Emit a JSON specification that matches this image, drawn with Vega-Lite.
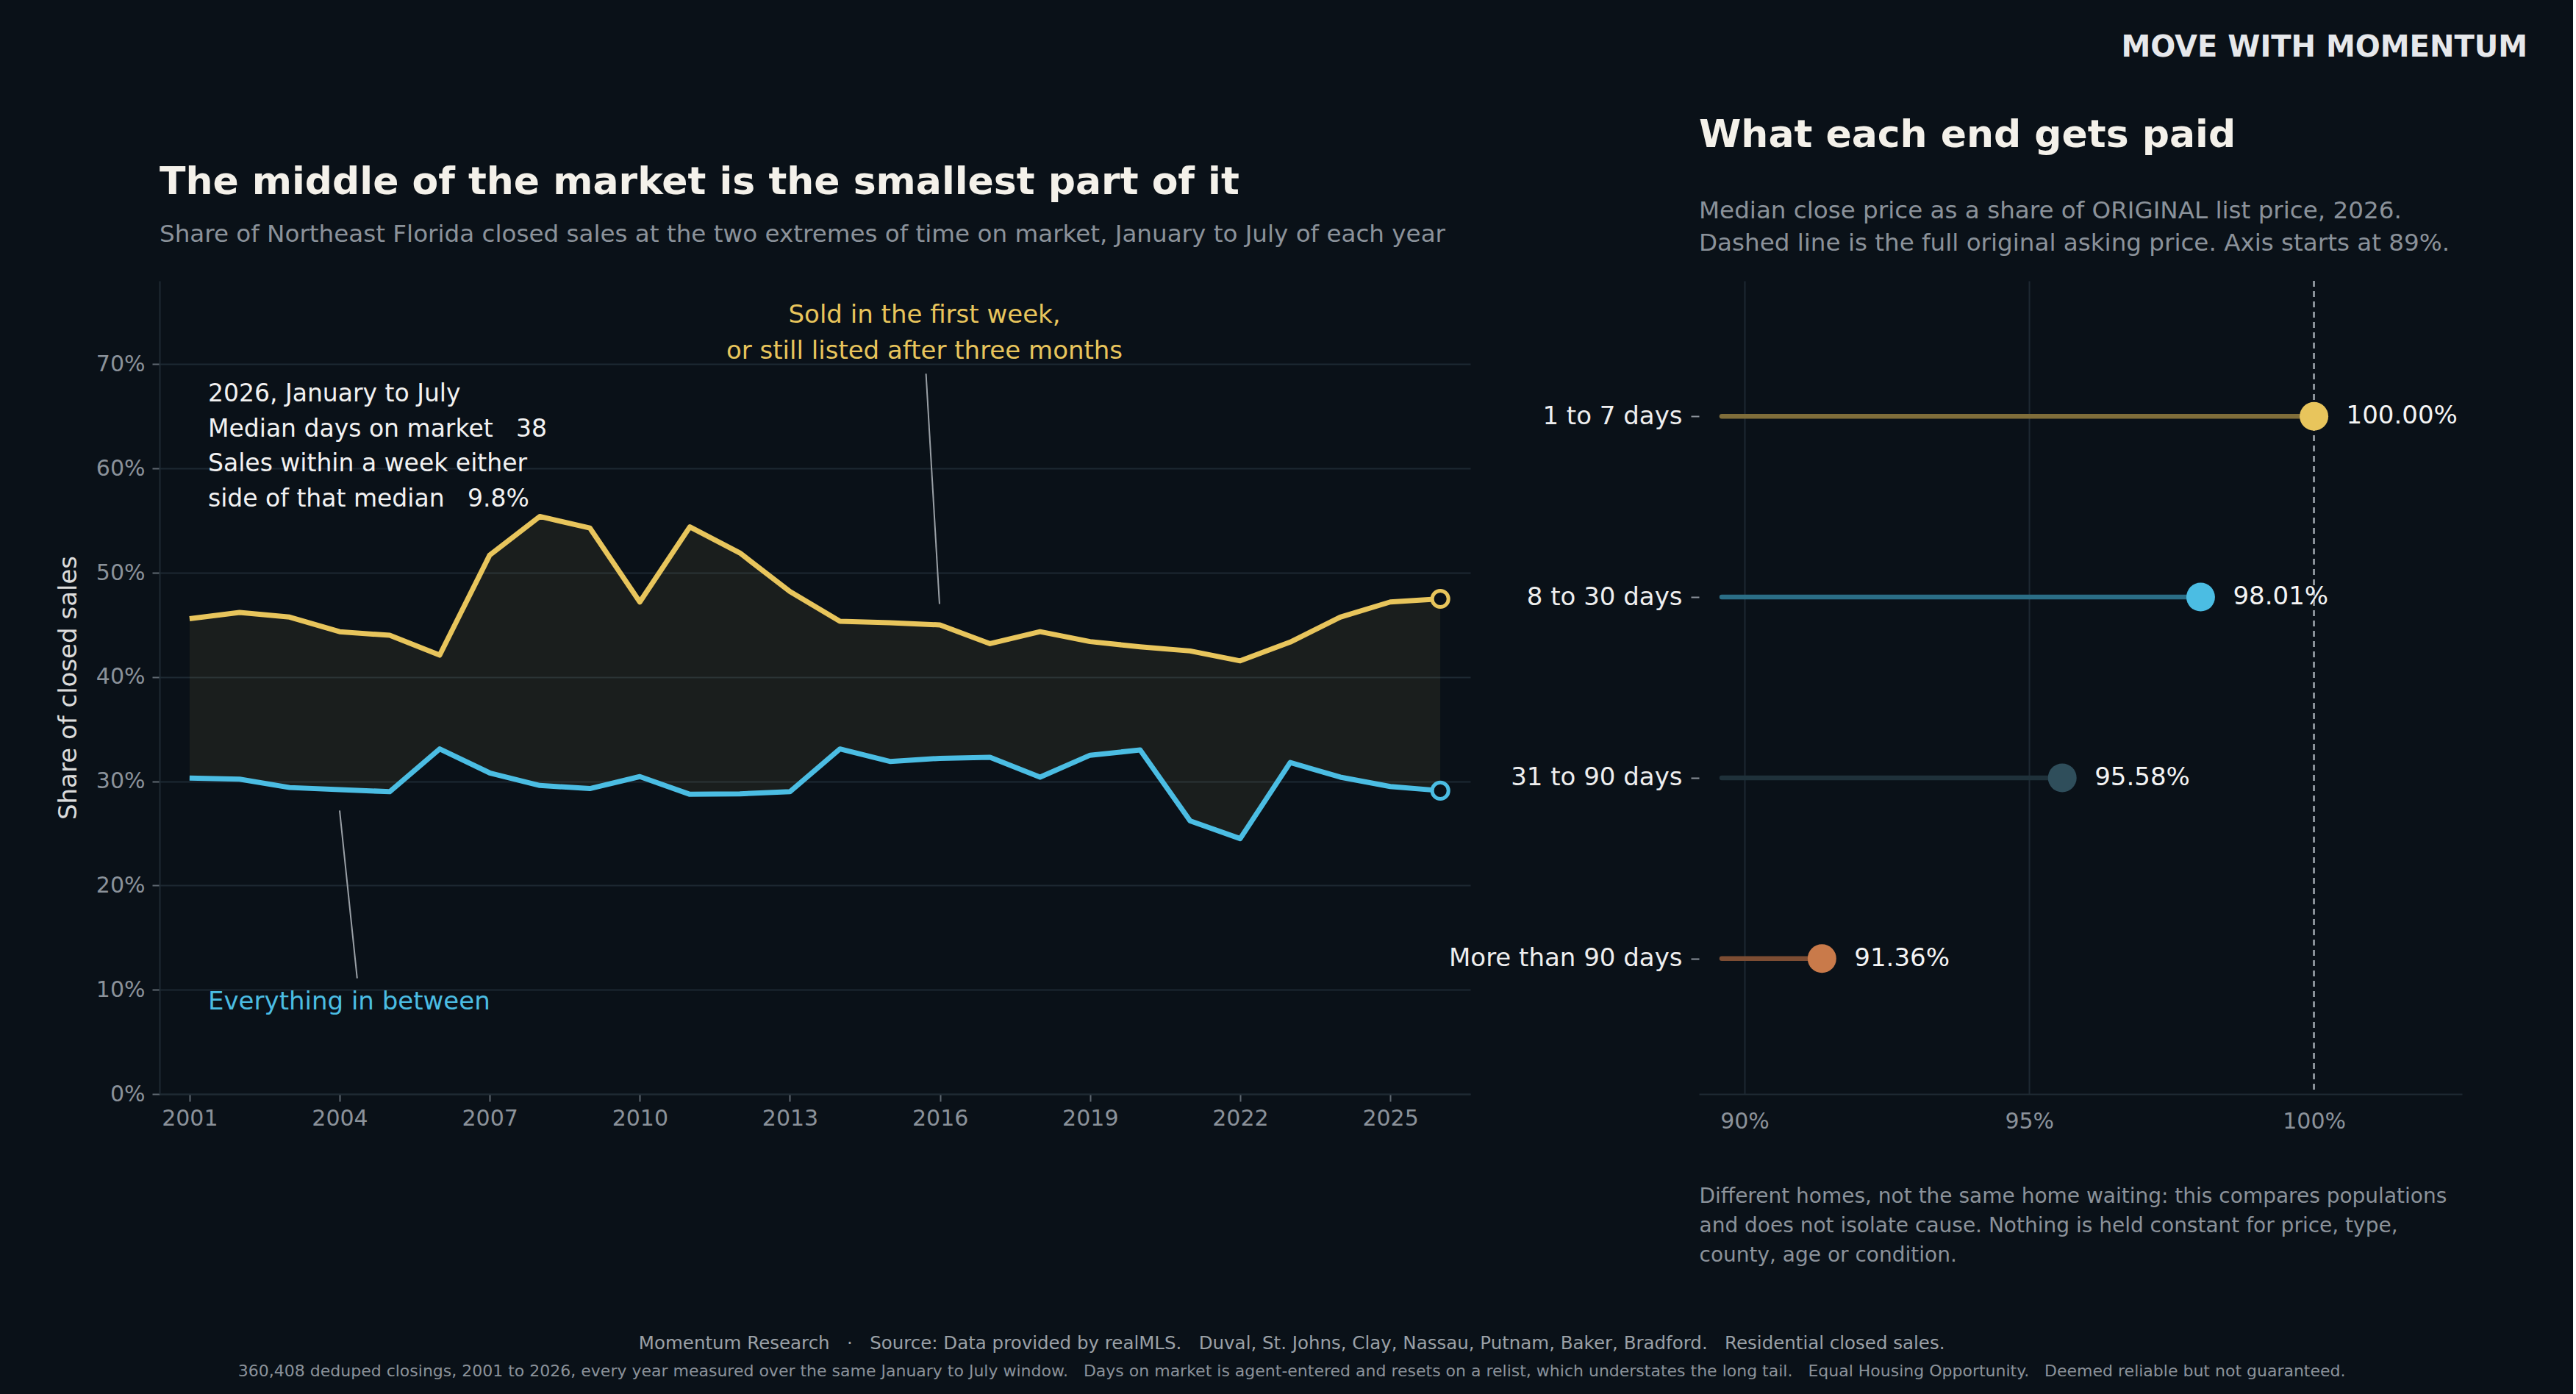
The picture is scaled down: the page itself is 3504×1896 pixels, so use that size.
{
  "$schema": "https://vega.github.io/schema/vega-lite/v6.json",
  "background": "#0a1118",
  "padding": {"left": 76, "top": 45, "right": 62, "bottom": 20},
  "config": {
    "font": "DejaVu Sans",
    "view": {"stroke": null},
    "axis": {"labelFont": "DejaVu Sans", "titleFont": "DejaVu Sans"},
    "title": {"font": "DejaVu Sans", "subtitleFont": "DejaVu Sans"}
  },
  "datasets": {
    "share": [
      {"year": 2001, "extremes": 45.6, "between": 30.3},
      {"year": 2002, "extremes": 46.2, "between": 30.2},
      {"year": 2003, "extremes": 45.75, "between": 29.4},
      {"year": 2004, "extremes": 44.35, "between": 29.2},
      {"year": 2005, "extremes": 44.0, "between": 29.0},
      {"year": 2006, "extremes": 42.1, "between": 33.1},
      {"year": 2007, "extremes": 51.7, "between": 30.8},
      {"year": 2008, "extremes": 55.4, "between": 29.6},
      {"year": 2009, "extremes": 54.3, "between": 29.3},
      {"year": 2010, "extremes": 47.2, "between": 30.45},
      {"year": 2011, "extremes": 54.4, "between": 28.75},
      {"year": 2012, "extremes": 51.9, "between": 28.8},
      {"year": 2013, "extremes": 48.2, "between": 29.0},
      {"year": 2014, "extremes": 45.35, "between": 33.1},
      {"year": 2015, "extremes": 45.2, "between": 31.9},
      {"year": 2016, "extremes": 45.0, "between": 32.2},
      {"year": 2017, "extremes": 43.2, "between": 32.3},
      {"year": 2018, "extremes": 44.35, "between": 30.4},
      {"year": 2019, "extremes": 43.4, "between": 32.5},
      {"year": 2020, "extremes": 42.9, "between": 33.0},
      {"year": 2021, "extremes": 42.5, "between": 26.2},
      {"year": 2022, "extremes": 41.55, "between": 24.5},
      {"year": 2023, "extremes": 43.35, "between": 31.8},
      {"year": 2024, "extremes": 45.75, "between": 30.4},
      {"year": 2025, "extremes": 47.2, "between": 29.5},
      {"year": 2026, "extremes": 47.5, "between": 29.1}
    ],
    "leaders": [
      {"year": 2015.99, "share": 47.0, "year2": 2015.72, "share2": 69.1},
      {"year": 2004.35, "share": 11.1, "year2": 2004.0, "share2": 27.2}
    ],
    "notes": [
      {"kind": "fast", "year": 2015.69, "share": 74.0, "label": "Sold in the first week,\nor still listed after three months"},
      {"kind": "stats", "year": 2001.37, "share": 66.4, "label": "2026, January to July\nMedian days on market \u00a0\u00a038\nSales within a week either\nside of that median \u00a0\u00a09.8%"},
      {"kind": "middle", "year": 2001.37, "share": 8.1, "label": "Everything in between"}
    ],
    "paid": [
      {"bucket": "1 to 7 days", "pct": 100.00},
      {"bucket": "8 to 30 days", "pct": 98.01},
      {"bucket": "31 to 90 days", "pct": 95.58},
      {"bucket": "More than 90 days", "pct": 91.36}
    ]
  },
  "title": {
    "text": "Momentum Research \u00a0\u00a0·\u00a0\u00a0 Source: Data provided by realMLS. \u00a0\u00a0Duval, St. Johns, Clay, Nassau, Putnam, Baker, Bradford. \u00a0\u00a0Residential closed sales.",
    "subtitle": "360,408 deduped closings, 2001 to 2026, every year measured over the same January to July window. \u00a0\u00a0Days on market is agent-entered and resets on a relist, which understates the long tail. \u00a0\u00a0Equal Housing Opportunity. \u00a0\u00a0Deemed reliable but not guaranteed.",
    "orient": "bottom",
    "anchor": "middle",
    "fontSize": 24.5,
    "fontWeight": "normal",
    "color": "#9aa0a6",
    "subtitleFontSize": 22,
    "subtitleColor": "#8b929a",
    "subtitlePadding": 14,
    "offset": 95
  },
  "vconcat": [
    {
      "title": {
        "text": "MOVE WITH MOMENTUM",
        "anchor": "end",
        "fontSize": 40,
        "fontWeight": "bold",
        "color": "#e6e8eb",
        "dx": 89,
        "offset": 73
      },
      "bounds": "flush",
      "spacing": 311,
      "hconcat": [
        {
          "width": 1783,
          "height": 1106,
          "title": {
            "text": "The middle of the market is the smallest part of it",
            "subtitle": "Share of Northeast Florida closed sales at the two extremes of time on market, January to July of each year",
            "anchor": "start",
            "frame": "group",
            "fontSize": 52,
            "fontWeight": "bold",
            "color": "#f4f1ea",
            "subtitleFontSize": 32.6,
            "subtitleColor": "#8b929a",
            "subtitlePadding": 28,
            "offset": 45
          },
          "layer": [
            {
              "data": {"name": "share"},
              "mark": {"type": "area", "color": "#e8c55c", "opacity": 0.075},
              "encoding": {
                "x": {
                  "field": "year",
                  "type": "quantitative",
                  "scale": {"domain": [2000.4, 2026.6], "nice": false, "zero": false},
                  "axis": {
                    "title": null,
                    "values": [2001, 2004, 2007, 2010, 2013, 2016, 2019, 2022, 2025],
                    "format": "d",
                    "grid": false,
                    "labelFontSize": 30,
                    "labelColor": "#8b929a",
                    "labelPadding": 8,
                    "tickColor": "#5f6871",
                    "tickSize": 10,
                    "tickWidth": 2,
                    "domainColor": "#1f2a33",
                    "domainWidth": 2
                  }
                },
                "y": {
                  "field": "extremes",
                  "type": "quantitative",
                  "scale": {"domain": [0, 78], "nice": false},
                  "axis": {
                    "title": "Share of closed sales",
                    "titleColor": "#dcdcdc",
                    "titleFontSize": 34,
                    "titleFontWeight": "normal",
                    "titlePadding": 20,
                    "values": [0, 10, 20, 30, 40, 50, 60, 70],
                    "labelExpr": "datum.value + '%'",
                    "labelFontSize": 30,
                    "labelColor": "#8b929a",
                    "labelPadding": 10,
                    "tickColor": "#5f6871",
                    "tickSize": 10,
                    "tickWidth": 2,
                    "grid": true,
                    "gridColor": "#1d2932",
                    "gridWidth": 2,
                    "domainColor": "#1f2a33",
                    "domainWidth": 2
                  }
                },
                "y2": {"field": "between"}
              }
            },
            {
              "data": {"name": "share"},
              "mark": {"type": "line", "color": "#e8c55c", "strokeWidth": 7, "strokeJoin": "round"},
              "encoding": {
                "x": {"field": "year", "type": "quantitative"},
                "y": {"field": "extremes", "type": "quantitative"}
              }
            },
            {
              "data": {"name": "share"},
              "mark": {"type": "line", "color": "#4bbde3", "strokeWidth": 7, "strokeJoin": "round"},
              "encoding": {
                "x": {"field": "year", "type": "quantitative"},
                "y": {"field": "between", "type": "quantitative"}
              }
            },
            {
              "data": {"name": "share"},
              "transform": [{"filter": "datum.year == 2026"}],
              "mark": {"type": "point", "shape": "circle", "filled": true, "fill": "#0a1118", "stroke": "#e8c55c", "strokeWidth": 5, "size": 490, "opacity": 1},
              "encoding": {
                "x": {"field": "year", "type": "quantitative"},
                "y": {"field": "extremes", "type": "quantitative"}
              }
            },
            {
              "data": {"name": "share"},
              "transform": [{"filter": "datum.year == 2026"}],
              "mark": {"type": "point", "shape": "circle", "filled": true, "fill": "#0a1118", "stroke": "#4bbde3", "strokeWidth": 5, "size": 490, "opacity": 1},
              "encoding": {
                "x": {"field": "year", "type": "quantitative"},
                "y": {"field": "between", "type": "quantitative"}
              }
            },
            {
              "data": {"name": "leaders"},
              "mark": {"type": "rule", "color": "#9aa0a6", "strokeWidth": 2},
              "encoding": {
                "x": {"field": "year", "type": "quantitative"},
                "y": {"field": "share", "type": "quantitative"},
                "x2": {"field": "year2"},
                "y2": {"field": "share2"}
              }
            },
            {
              "data": {"name": "notes"},
              "transform": [{"filter": "datum.kind == 'fast'"}],
              "mark": {"type": "text", "color": "#e8c55c", "fontSize": 34, "align": "center", "baseline": "alphabetic", "lineBreak": "\n", "lineHeight": 49},
              "encoding": {
                "x": {"field": "year", "type": "quantitative"},
                "y": {"field": "share", "type": "quantitative"},
                "text": {"field": "label"}
              }
            },
            {
              "data": {"name": "notes"},
              "transform": [{"filter": "datum.kind == 'stats'"}],
              "mark": {"type": "text", "color": "#f2f2f2", "fontSize": 33, "align": "left", "baseline": "alphabetic", "lineBreak": "\n", "lineHeight": 47.4},
              "encoding": {
                "x": {"field": "year", "type": "quantitative"},
                "y": {"field": "share", "type": "quantitative"},
                "text": {"field": "label"}
              }
            },
            {
              "data": {"name": "notes"},
              "transform": [{"filter": "datum.kind == 'middle'"}],
              "mark": {"type": "text", "color": "#4bbde3", "fontSize": 34, "align": "left", "baseline": "alphabetic"},
              "encoding": {
                "x": {"field": "year", "type": "quantitative"},
                "y": {"field": "share", "type": "quantitative"},
                "text": {"field": "label"}
              }
            }
          ]
        },
        {
          "width": 1038,
          "height": 1106,
          "title": {
            "text": "What each end gets paid",
            "subtitle": [
              "Median close price as a share of ORIGINAL list price, 2026.",
              "Dashed line is the full original asking price. Axis starts at 89%."
            ],
            "anchor": "start",
            "frame": "group",
            "fontSize": 52,
            "fontWeight": "bold",
            "color": "#f4f1ea",
            "subtitleFontSize": 32.6,
            "subtitleColor": "#8b929a",
            "subtitleLineHeight": 44,
            "subtitlePadding": 60,
            "offset": 32
          },
          "data": {"name": "paid"},
          "layer": [
            {
              "mark": {"type": "rule", "strokeWidth": 6.5, "strokeCap": "round"},
              "encoding": {
                "y": {
                  "field": "bucket",
                  "type": "nominal",
                  "sort": ["1 to 7 days", "8 to 30 days", "31 to 90 days", "More than 90 days"],
                  "scale": {"type": "point", "padding": 0.75},
                  "axis": {
                    "title": null,
                    "domain": false,
                    "grid": false,
                    "labelFontSize": 34,
                    "labelColor": "#eeeeee",
                    "labelPadding": 12,
                    "labelLimit": 600,
                    "tickColor": "#8b929a",
                    "tickSize": 11,
                    "tickWidth": 2
                  }
                },
                "x": {
                  "field": "pct",
                  "type": "quantitative",
                  "scale": {"domain": [89.2, 102.6], "nice": false, "zero": false},
                  "axis": {
                    "title": [
                      "Different homes, not the same home waiting: this compares populations",
                      "and does not isolate cause. Nothing is held constant for price, type,",
                      "county, age or condition."
                    ],
                    "titleFontSize": 28,
                    "titleFontWeight": "normal",
                    "titleColor": "#8b929a",
                    "titleAnchor": "start",
                    "titleAlign": "left",
                    "titleLineHeight": 40,
                    "titlePadding": 73,
                    "values": [90, 95, 100],
                    "labelExpr": "datum.value + '%'",
                    "labelFontSize": 30,
                    "labelColor": "#8b929a",
                    "labelPadding": 22,
                    "ticks": false,
                    "grid": true,
                    "gridColor": "#1d2932",
                    "gridWidth": 2,
                    "gridOpacity": {"condition": {"test": "datum.value === 100", "value": 0}, "value": 1},
                    "domainColor": "#1f2a33",
                    "domainWidth": 2
                  }
                },
                "x2": {"datum": 89.6},
                "color": {
                  "field": "bucket",
                  "type": "nominal",
                  "scale": {
                    "domain": ["1 to 7 days", "8 to 30 days", "31 to 90 days", "More than 90 days"],
                    "range": ["#7f6d3a", "#2b6e86", "#1f313a", "#7d4d33"]
                  },
                  "legend": null
                }
              }
            },
            {
              "mark": {"type": "rule", "color": "#8b929a", "strokeWidth": 2.5, "strokeDash": [8, 6]},
              "encoding": {
                "x": {"datum": 100, "type": "quantitative"}
              }
            },
            {
              "mark": {"type": "circle", "size": 1520, "opacity": 1},
              "encoding": {
                "y": {"field": "bucket", "type": "nominal", "sort": ["1 to 7 days", "8 to 30 days", "31 to 90 days", "More than 90 days"]},
                "x": {"field": "pct", "type": "quantitative"},
                "color": {
                  "field": "bucket",
                  "type": "nominal",
                  "scale": {
                    "domain": ["1 to 7 days", "8 to 30 days", "31 to 90 days", "More than 90 days"],
                    "range": ["#e8c55c", "#4bbde3", "#2f4e5b", "#c97a4a"]
                  },
                  "legend": null
                }
              }
            },
            {
              "transform": [{"calculate": "format(datum.pct, '.2f') + '%'", "as": "label"}],
              "mark": {"type": "text", "align": "left", "baseline": "middle", "dx": 44, "fontSize": 34, "color": "#f4f4f4"},
              "encoding": {
                "y": {"field": "bucket", "type": "nominal", "sort": ["1 to 7 days", "8 to 30 days", "31 to 90 days", "More than 90 days"]},
                "x": {"field": "pct", "type": "quantitative"},
                "text": {"field": "label"}
              }
            }
          ],
          "resolve": {"scale": {"color": "independent"}}
        }
      ]
    }
  ]
}
